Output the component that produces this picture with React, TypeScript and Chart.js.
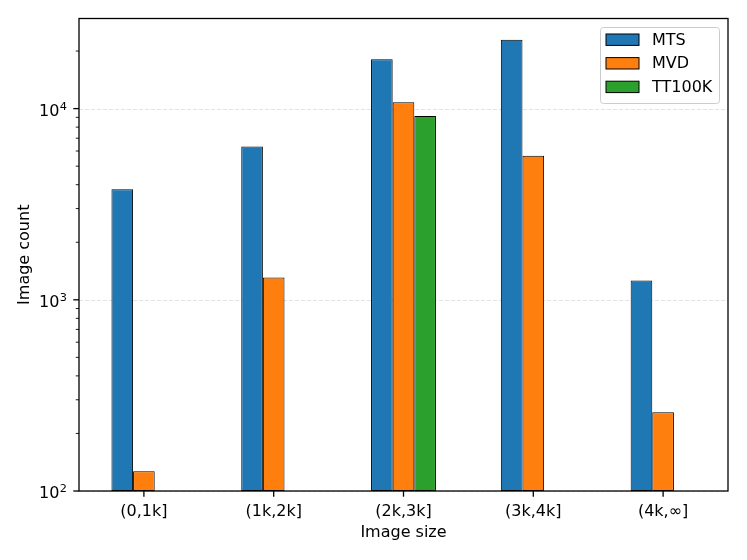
import React, { useEffect, useRef } from "react";
import { Chart, registerables } from "chart.js";

Chart.register(...registerables);

const categories = ["(0,1k]", "(1k,2k]", "(2k,3k]", "(3k,4k]", "(4k,∞]"];
const mtsCounts = [3790, 6340, 18100, 22900, 1260];
const mvdCounts = [127, 1310, 10800, 5670, 258];
const tt100kCounts = [null, null, 9160, null, null];
const majorTicks = [100, 1000, 10000];

const FONT = "'DejaVu Sans', sans-serif";

// grid, frame, tick marks, y labels and legend, drawn the matplotlib way
const decorPlugin = {
  id: "decor",
  beforeDatasetsDraw(chart: any) {
    const { ctx, chartArea } = chart;
    const y = chart.scales.y;
    ctx.save();
    ctx.strokeStyle = "#e3e3e3";
    ctx.lineWidth = 1;
    ctx.setLineDash([4, 2]);
    majorTicks.forEach((v) => {
      const py = Math.round(y.getPixelForValue(v)) + 0.5;
      ctx.beginPath();
      ctx.moveTo(chartArea.left, py);
      ctx.lineTo(chartArea.right, py);
      ctx.stroke();
    });
    ctx.restore();
  },
  afterDatasetsDraw(chart: any) {
    const { ctx, chartArea } = chart;
    const x = chart.scales.x;
    const y = chart.scales.y;
    ctx.save();
    ctx.strokeStyle = "#000";
    // minor + major y ticks
    for (let e = 2; e <= 4; e++) {
      for (let m = 1; m <= 9; m++) {
        const v = m * Math.pow(10, e);
        if (v > y.max) continue;
        const py = y.getPixelForValue(v);
        const len = m === 1 ? 5.7 : 3.2;
        ctx.lineWidth = m === 1 ? 1.3 : 0.9;
        ctx.beginPath();
        ctx.moveTo(chartArea.left, py);
        ctx.lineTo(chartArea.left - len, py);
        ctx.stroke();
      }
    }
    // y labels: 10 with a raised exponent
    ctx.fillStyle = "#000";
    ctx.textAlign = "right";
    ctx.textBaseline = "alphabetic";
    majorTicks.forEach((v) => {
      const py = y.getPixelForValue(v);
      const exp = String(Math.round(Math.log10(v)));
      const right = chartArea.left - 12;
      ctx.font = `11.3px ${FONT}`;
      const ew = ctx.measureText(exp).width;
      ctx.fillText(exp, right, py + 1.3);
      ctx.font = `16px ${FONT}`;
      ctx.fillText("10", right - ew - 0.5, py + 7.3);
    });
    // x ticks
    ctx.lineWidth = 1.3;
    categories.forEach((_, i) => {
      const px = x.getPixelForValue(i);
      ctx.beginPath();
      ctx.moveTo(px, chartArea.bottom);
      ctx.lineTo(px, chartArea.bottom + 5.7);
      ctx.stroke();
    });
    // frame
    ctx.strokeRect(
      chartArea.left,
      chartArea.top,
      chartArea.right - chartArea.left,
      chartArea.bottom - chartArea.top
    );
    ctx.restore();
  },
  afterDraw(chart: any) {
    const { ctx } = chart;
    const bx = 600;
    const by = 27;
    const bw = 119;
    const bh = 76;
    ctx.save();
    ctx.fillStyle = "rgba(255,255,255,0.8)";
    ctx.strokeStyle = "#cccccc";
    ctx.lineWidth = 1;
    ctx.beginPath();
    ctx.roundRect(bx + 0.5, by + 0.5, bw, bh, 3);
    ctx.fill();
    ctx.stroke();
    ctx.font = `16px ${FONT}`;
    ctx.textBaseline = "middle";
    chart.data.datasets.forEach((ds: any, i: number) => {
      const cy = 39.7 + i * 23.6;
      ctx.fillStyle = ds.backgroundColor;
      ctx.fillRect(606, cy - 5.7, 33, 11.4);
      ctx.strokeStyle = "#000";
      ctx.lineWidth = 1;
      ctx.strokeRect(606, cy - 5.7, 33, 11.4);
      ctx.fillStyle = "#000";
      ctx.fillText(ds.label, 652, cy + 1);
    });
    ctx.restore();
  },
};

const App: React.FC = () => {
  const canvasRef = useRef<HTMLCanvasElement>(null);
  const chartRef = useRef<Chart>();

  useEffect(() => {
    document.body.style.margin = "0";
    const ctx = canvasRef.current?.getContext("2d");
    if (!ctx) return;

    const bar = (label: string, data: (number | null)[], color: string) => ({
      label,
      data,
      backgroundColor: color,
      borderColor: "#000",
      borderWidth: 1,
      borderSkipped: false,
      categoryPercentage: 0.5,
      barPercentage: 1.0,
    });

    chartRef.current = new Chart(ctx, {
      type: "bar",
      data: {
        labels: categories,
        datasets: [
          bar("MTS", mtsCounts, "#1f77b4"),
          bar("MVD", mvdCounts, "#ff7f0e"),
          bar("TT100K", tt100kCounts, "#2ca02c"),
        ],
      },
      options: {
        responsive: false,
        animation: false,
        devicePixelRatio: 1,
        layout: { padding: { top: 18.5, right: 19, left: 0, bottom: 0 } },
        plugins: {
          legend: { display: false },
          tooltip: { enabled: false },
        },
        scales: {
          x: {
            type: "category",
            grid: { display: false, drawTicks: false },
            border: { display: false },
            ticks: {
              color: "#000",
              padding: 11,
              font: { family: FONT, size: 16 },
            },
            title: {
              display: true,
              text: "Image size",
              color: "#000",
              font: { family: FONT, size: 16 },
              padding: { top: 0, bottom: 17.5 },
            },
            afterFit: (scale: any) => {
              scale.height = 69;
            },
          },
          y: {
            type: "logarithmic",
            min: 100,
            max: 29600,
            grid: { display: false, drawTicks: false },
            border: { display: false },
            ticks: { display: false },
            title: {
              display: true,
              text: "Image count",
              color: "#000",
              font: { family: FONT, size: 16 },
              padding: { top: 15.4, bottom: 0 },
            },
            afterFit: (scale: any) => {
              scale.width = 79;
            },
          },
        },
      },
      plugins: [decorPlugin],
    });

    return () => {
      chartRef.current?.destroy();
    };
  }, []);

  return (
    <div style={{ width: 747, height: 560, background: "#fff" }}>
      <canvas ref={canvasRef} width={747} height={560}></canvas>
    </div>
  );
};

export default App;
